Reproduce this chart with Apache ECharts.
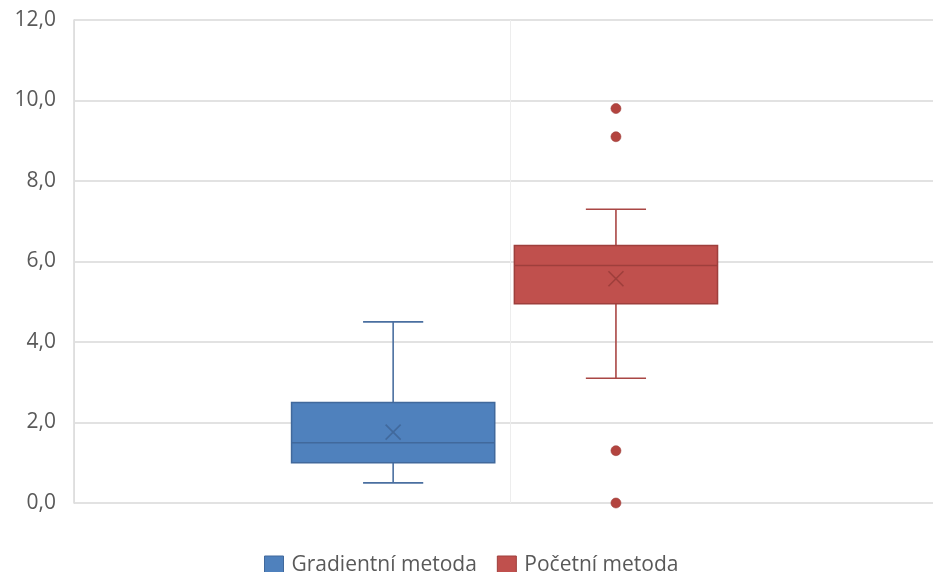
<!DOCTYPE html>
<html>
<head>
<meta charset="utf-8">
<script src="https://cdn.jsdelivr.net/npm/echarts@6/dist/echarts.min.js"></script>
<style>
  html, body { margin: 0; padding: 0; background: #fff; }
  #chart { width: 933px; height: 572px; }
</style>
</head>
<body>
<div id="chart"></div>
<script>
// Series names (legend)
const seriesNames = ['Gradientní metoda', 'Početní metoda'];

// Five-number summaries: [lower whisker, Q1, median, Q3, upper whisker]
const gradientStats = [0.5, 1.0, 1.5, 2.5, 4.5];
const pocetniStats = [3.1, 4.95, 5.9, 6.4, 7.3];

// Means (drawn as an X marker)
const gradientMean = 1.76;
const pocetniMean = 5.57;

// Outlying points
const gradientOutliers = [];
const pocetniOutliers = [9.8, 9.1, 1.3, 0.0];

// Value-axis ticks
const yTicks = [0, 2, 4, 6, 8, 10, 12];

// Layout: horizontal slot of each box on the hidden x scale, box and cap widths
const slots = [0.732, 1.243];
const boxWidth = 0.466;
const capWidth = 0.138;

const palette = [
  { fill: '#4F81BD', line: '#41699C', whisker: '#4A6FA0', dot: '#4A74AC' },
  { fill: '#C0504D', line: '#9E3F3C', whisker: '#A94744', dot: '#B3443F' }
];

function renderBox(params, api) {
  const idx = api.value(7);
  const x = api.value(0);
  const lo = api.value(1), q1 = api.value(2), med = api.value(3), q3 = api.value(4), hi = api.value(5), mean = api.value(6);
  const c = palette[idx];
  const half = api.size([boxWidth, 0])[0] / 2;
  const capHalf = api.size([capWidth, 0])[0] / 2;
  const pLo = api.coord([x, lo]), pQ1 = api.coord([x, q1]), pMed = api.coord([x, med]);
  const pQ3 = api.coord([x, q3]), pHi = api.coord([x, hi]), pMean = api.coord([x, mean]);
  const cx = pLo[0];
  const lineStyle = { stroke: c.whisker, lineWidth: 1.6 };
  const m = 7.5;
  return {
    type: 'group',
    children: [
      { type: 'line', shape: { x1: cx, y1: pLo[1], x2: cx, y2: pQ1[1] }, style: lineStyle },
      { type: 'line', shape: { x1: cx, y1: pQ3[1], x2: cx, y2: pHi[1] }, style: lineStyle },
      { type: 'line', shape: { x1: cx - capHalf, y1: pLo[1], x2: cx + capHalf, y2: pLo[1] }, style: lineStyle },
      { type: 'line', shape: { x1: cx - capHalf, y1: pHi[1], x2: cx + capHalf, y2: pHi[1] }, style: lineStyle },
      { type: 'rect', shape: { x: cx - half, y: pQ3[1], width: half * 2, height: pQ1[1] - pQ3[1] },
        style: { fill: c.fill, stroke: c.line, lineWidth: 1.5 } },
      { type: 'line', shape: { x1: cx - half, y1: pMed[1], x2: cx + half, y2: pMed[1] },
        style: { stroke: c.line, lineWidth: 1.5 } },
      { type: 'line', shape: { x1: cx - m, y1: pMean[1] - m, x2: cx + m, y2: pMean[1] + m },
        style: { stroke: c.line, lineWidth: 1.6 } },
      { type: 'line', shape: { x1: cx - m, y1: pMean[1] + m, x2: cx + m, y2: pMean[1] - m },
        style: { stroke: c.line, lineWidth: 1.6 } }
    ]
  };
}

const statsList = [gradientStats, pocetniStats];
const meanList = [gradientMean, pocetniMean];
const outlierList = [gradientOutliers, pocetniOutliers];

const series = [];
seriesNames.forEach((name, i) => {
  series.push({
    name: name,
    type: 'custom',
    renderItem: renderBox,
    itemStyle: { color: palette[i].fill, borderColor: palette[i].line, borderWidth: 1 },
    encode: { x: 0, y: [1, 2, 3, 4, 5, 6] },
    data: [[slots[i]].concat(statsList[i], [meanList[i], i])],
    clip: false,
    z: 2
  });
  series.push({
    name: name,
    type: 'scatter',
    symbol: 'circle',
    symbolSize: 10,
    itemStyle: { color: palette[i].dot, borderColor: palette[i].line, borderWidth: 0.6, opacity: 1 },
    data: outlierList[i].map(v => [slots[i], v]),
    clip: false,
    silent: true,
    z: 3
  });
});

const chart = echarts.init(document.getElementById('chart'), null, { renderer: 'canvas' });
chart.setOption({
  animation: false,
  backgroundColor: '#fff',
  grid: { left: 74, width: 872, top: 20, bottom: 69, outerBoundsMode: 'none', containLabel: false },
  xAxis: {
    type: 'value', min: 0, max: 2, interval: 1,
    axisLine: { show: false }, axisTick: { show: false }, axisLabel: { show: false },
    splitLine: { show: true, lineStyle: { color: '#EDEDED', width: 1 } }
  },
  yAxis: {
    type: 'value', min: yTicks[0], max: yTicks[yTicks.length - 1], interval: 2,
    axisLine: { show: true, lineStyle: { color: '#D9D9D9', width: 1.5 } },
    axisTick: { show: false },
    axisLabel: {
      margin: 18, color: '#595959', fontFamily: 'Open Sans', fontSize: 21,
      formatter: v => v.toFixed(1).replace('.', ',')
    },
    splitLine: { show: true, lineStyle: { color: '#D9D9D9', width: 1.5 } }
  },
  legend: {
    data: seriesNames.map((n, i) => ({ name: n, icon: 'rect', itemStyle: { color: palette[i].fill, borderColor: palette[i].line, borderWidth: 1 } })),
    left: 259, top: 550,
    itemWidth: 19, itemHeight: 19, itemGap: 20,
    textStyle: { color: '#595959', fontFamily: 'Open Sans', fontSize: 21, padding: [2, 0, 0, 3] },
    selectedMode: false
  },
  series: series
});
</script>
</body>
</html>
